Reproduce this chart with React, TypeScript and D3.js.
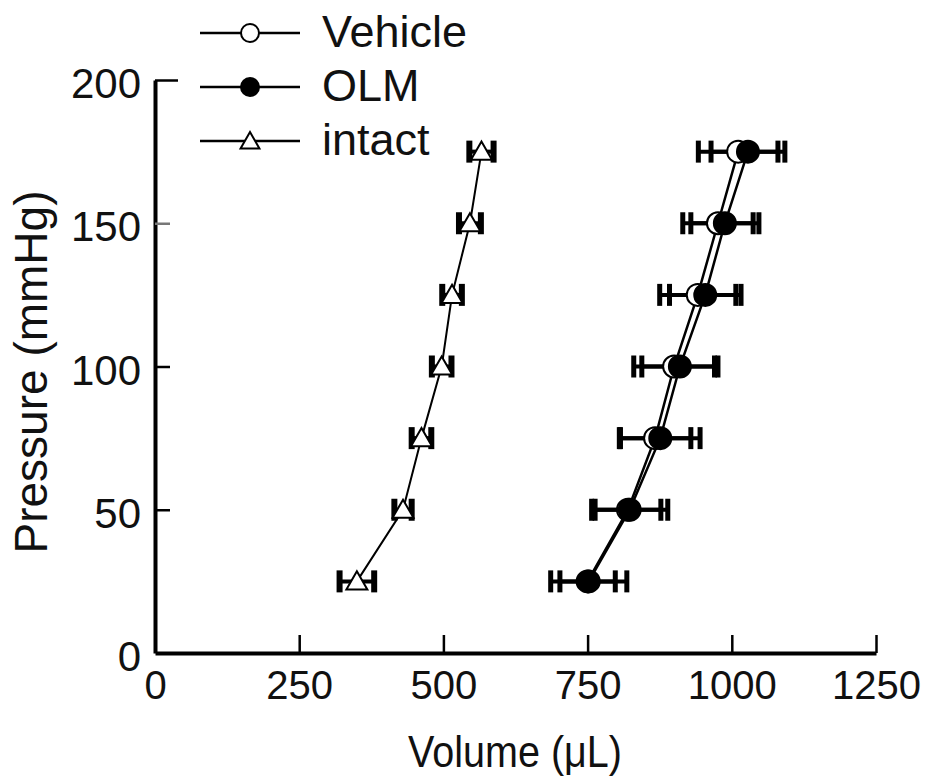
import React, { useEffect, useRef } from "react";
import * as d3 from "d3";

// pressure steps (mmHg) and volumes (µL)
const pressure = [25, 50, 75, 100, 125, 150, 175];
const vehicleMean = [750, 820, 867, 900, 941, 976, 1011];
const vehicleSem = [48, 57, 62, 70, 66, 61, 69];
const olmMean = [752, 823, 876, 910, 954, 988, 1028];
const olmSem = [66, 66, 69, 66, 62, 59, 64];
const intactMean = [350, 430, 462, 497, 515, 546, 566];
const intactSem = [30, 15, 17, 17, 17, 19, 21];

const xTicks = [0, 250, 500, 750, 1000, 1250];
const yTicks = [0, 50, 100, 150, 200];
const legendLabels = ["Vehicle", "OLM", "intact"];

const font = "'Liberation Sans', Arial, sans-serif";

const App = () => {
  const width = 931,
    height = 779,
    margin = { left: 155, top: 80, right: 55, bottom: 126 };

  const svgRef = useRef<SVGSVGElement>(null);

  useEffect(() => {
    document.body.style.margin = "0";
    const svg = d3.select(svgRef.current);
    svg.selectAll("*").remove();

    const x = d3.scaleLinear()
      .domain([0, 1250])
      .range([margin.left, width - margin.right]);
    const y = d3.scaleLinear()
      .domain([0, 200])
      .range([height - margin.bottom, margin.top]);

    const series = [
      { name: "intact", mean: intactMean, sem: intactSem },
      { name: "Vehicle", mean: vehicleMean, sem: vehicleSem },
      { name: "OLM", mean: olmMean, sem: olmSem },
    ];

    // axes
    const yAxis = svg.append("g")
      .attr("transform", `translate(${margin.left},0)`)
      .call(d3.axisLeft(y).tickValues(yTicks).tickSize(-15).tickSizeOuter(0).tickPadding(14));
    yAxis.select(".domain").attr("stroke", "#000").attr("stroke-width", 4);
    yAxis.selectAll(".tick line")
      .attr("stroke", (d: any) => (d === 150 ? "#777" : "#000"))
      .attr("stroke-width", 2.5)
      .attr("x2", (d: any) => (d === 200 ? 23 : d === 0 ? 0 : 15));
    yAxis.selectAll(".tick text")
      .attr("font-family", font)
      .attr("font-size", 42)
      .attr("fill", "#111")
      .attr("dy", "0.42em");

    const xAxis = svg.append("g")
      .attr("transform", `translate(0,${height - margin.bottom})`)
      .call(d3.axisBottom(x).tickValues(xTicks).tickFormat(d3.format("d")).tickSize(-18).tickSizeOuter(0).tickPadding(18));
    xAxis.select(".domain").attr("stroke", "#000").attr("stroke-width", 4);
    xAxis.selectAll(".tick line")
      .attr("stroke", "#000")
      .attr("stroke-width", 2.5)
      .attr("y2", (d: any) => (d === 0 ? 0 : -18));
    xAxis.selectAll(".tick text")
      .attr("font-family", font)
      .attr("font-size", 40)
      .attr("fill", "#111");

    svg.append("text")
      .attr("x", 515)
      .attr("y", 767)
      .attr("text-anchor", "middle")
      .attr("font-family", font)
      .attr("font-size", 44)
      .attr("textLength", 214)
      .attr("lengthAdjust", "spacingAndGlyphs")
      .attr("fill", "#111")
      .text("Volume (\u03bcL)");

    svg.append("text")
      .attr("transform", "translate(47,372) rotate(-90)")
      .attr("text-anchor", "middle")
      .attr("font-family", font)
      .attr("font-size", 46)
      .attr("fill", "#111")
      .text("Pressure (mmHg)");

    // connecting lines
    const line = d3.line<number>()
      .x((d) => x(d))
      .y((d, i) => y(pressure[i]));

    series.forEach((s) => {
      svg.append("path")
        .datum(s.mean)
        .attr("fill", "none")
        .attr("stroke", "#000")
        .attr("stroke-width", s.name === "intact" ? 2 : 2.5)
        .attr("d", line);
    });

    // error bars
    series.forEach((s) => {
      const g = svg.append("g").attr("fill", "#000").attr("stroke", "#000");
      const capW = s.name === "intact" ? 6 : 5;
      s.mean.forEach((m, i) => {
        const cy = y(pressure[i]);
        g.append("line")
          .attr("x1", x(m - s.sem[i]))
          .attr("x2", x(m + s.sem[i]))
          .attr("y1", cy)
          .attr("y2", cy)
          .attr("stroke-width", 4);
        [m - s.sem[i], m + s.sem[i]].forEach((v) => {
          g.append("rect")
            .attr("x", x(v) - capW / 2)
            .attr("y", cy - 11)
            .attr("width", capW)
            .attr("height", 22)
            .attr("stroke", "none");
        });
      });
    });

    // markers
    const drawMarker = (g: any, name: string, cx: number, cy: number, r: number) => {
      if (name === "intact") {
        g.append("path")
          .attr("d", d3.symbol(d3.symbolTriangle, r * r * 1.9)())
          .attr("transform", `translate(${cx},${cy + 2})`)
          .attr("fill", "#fff")
          .attr("stroke", "#000")
          .attr("stroke-width", 2);
      } else {
        g.append("circle")
          .attr("cx", cx)
          .attr("cy", cy)
          .attr("r", r)
          .attr("fill", name === "OLM" ? "#000" : "#fff")
          .attr("stroke", "#000")
          .attr("stroke-width", 2);
      }
    };

    series.forEach((s) => {
      const g = svg.append("g");
      s.mean.forEach((m, i) => drawMarker(g, s.name, x(m), y(pressure[i]), s.name === "intact" ? 10 : 11));
    });

    // legend
    const legend = svg.append("g");
    legendLabels.forEach((name, i) => {
      const ly = 33 + i * 54;
      legend.append("line")
        .attr("x1", 200)
        .attr("x2", 300)
        .attr("y1", ly)
        .attr("y2", ly)
        .attr("stroke", "#000")
        .attr("stroke-width", 2.5);
      drawMarker(legend, name, 250, ly, 9);
      legend.append("text")
        .attr("x", 322)
        .attr("y", ly + 14)
        .attr("font-family", font)
        .attr("font-size", 45)
        .attr("fill", "#111")
        .text(name);
    });
  }, []);

  return (
    <svg ref={svgRef} width={width} height={height} style={{ display: "block", background: "#fff" }}></svg>
  );
};

export default App;
